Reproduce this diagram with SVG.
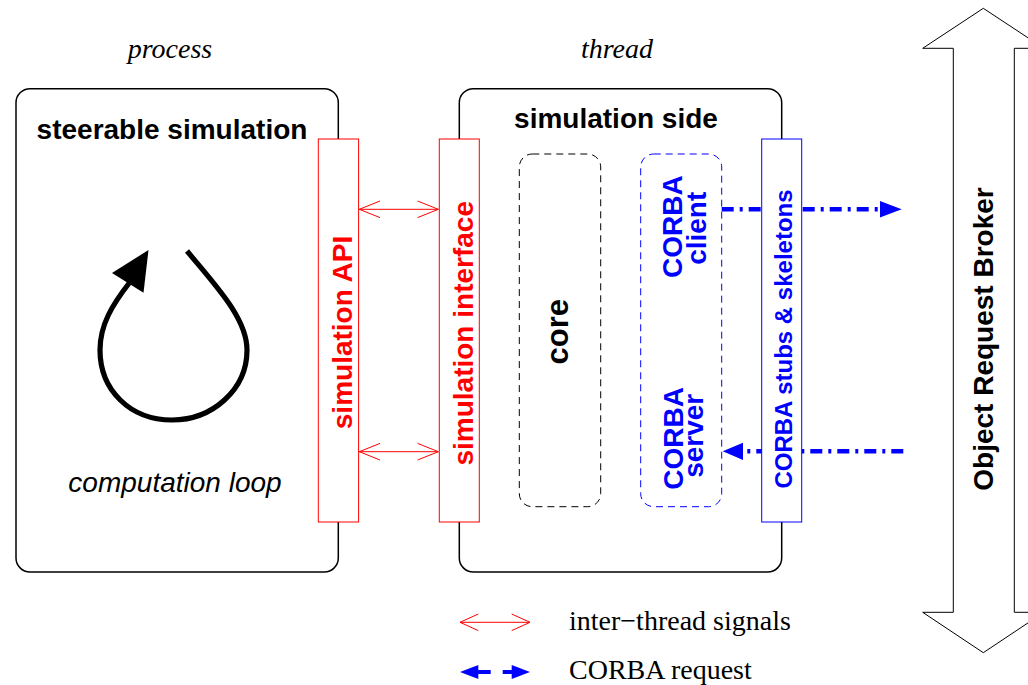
<svg xmlns="http://www.w3.org/2000/svg" width="1028" height="685" viewBox="0 0 1028 685">
<style>
.box{fill:#fff;stroke:#000;stroke-width:1.5}
.red{fill:#fff;stroke:#ff0000;stroke-width:1}
.blu{fill:#fff;stroke:#0000ff;stroke-width:1}
.dash{fill:none;stroke-width:1;stroke-dasharray:7 5}
.b{font-family:"Liberation Sans",Arial,sans-serif;font-weight:bold;font-size:28px;text-anchor:middle}
.it{font-family:"Liberation Serif","Times New Roman",serif;font-style:italic;font-size:28px;text-anchor:middle}
.rm{font-family:"Liberation Serif","Times New Roman",serif;font-size:28px}
.sans-it{font-family:"Liberation Sans",Arial,sans-serif;font-style:italic;font-size:28px;text-anchor:middle}
.rl{fill:none;stroke:#ff0000;stroke-width:1}
.bl{fill:none;stroke:#0000ff;stroke-width:4.5;stroke-dasharray:12 6 3 6}
</style>
<rect width="1028" height="685" fill="#fff"/>

<g id="steerable-simulation">
<rect class="box" x="16" y="88.7" width="322.3" height="483.3" rx="14"/>
<text class="b" x="172" y="139">steerable simulation</text>
<path d="M187,251 C215,285 247,318 247,350 C247,390 212,420 172,420 C130,420 100,390 100,350 C100,325 112,305 130,282" fill="none" stroke="#000" stroke-width="5.2"/>
<polygon points="148.5,250 112,273 143.5,292.7" fill="#000"/>
<text class="sans-it" x="175" y="492">computation loop</text>
</g>

<g id="simulation-side">
<rect class="box" x="459.3" y="88.7" width="322.4" height="483.3" rx="14"/>
<text class="b" x="616" y="128">simulation side</text>
</g>

<text class="it" x="170" y="58">process</text>
<text class="it" x="617" y="58">thread</text>

<g id="connectors">
<g id="sig1">
<line class="rl" x1="359.3" y1="209.3" x2="438.3" y2="209.3"/>
<polyline class="rl" points="380,201 359.3,209.3 380,217.6"/>
<polyline class="rl" points="417.6,201 438.3,209.3 417.6,217.6"/>
</g>
<g id="sig2">
<line class="rl" x1="359.3" y1="451.7" x2="438.3" y2="451.7"/>
<polyline class="rl" points="380,443.4 359.3,451.7 380,460"/>
<polyline class="rl" points="417.6,443.4 438.3,451.7 417.6,460"/>
</g>
<g id="req-out">
<line class="bl" x1="721.7" y1="209.3" x2="881" y2="209.3"/>
<polygon points="880,201 901.7,209.3 880,217.6" fill="#0000ff"/>
</g>
<g id="req-in">
<line class="bl" x1="903.3" y1="451.3" x2="742" y2="451.3"/>
<polygon points="743,442.7 722.7,451.3 743,460" fill="#0000ff"/>
</g>
</g>

<g id="simulation-api">
<rect class="red" x="318.3" y="139" width="40.3" height="383"/>
<text class="b" fill="#ff0000" transform="translate(352,332.5) rotate(-90)">simulation API</text>
</g>

<g id="simulation-interface">
<rect class="red" x="439.3" y="139" width="40" height="383"/>
<text class="b" fill="#ff0000" transform="translate(473,333.3) rotate(-90)">simulation interface</text>
</g>

<g id="core">
<rect class="dash" stroke="#000" x="519.3" y="154" width="81.4" height="352.7" rx="13"/>
<text class="b" font-size="31" style="font-size:31px" transform="translate(568,331.7) rotate(-90)">core</text>
</g>

<g id="corba-client-server">
<rect class="dash" stroke="#0000ff" x="640.7" y="154" width="81" height="352.7" rx="13"/>
<text class="b" fill="#0000ff" transform="translate(682,226.7) rotate(-90)">CORBA</text>
<text class="b" fill="#0000ff" transform="translate(706,228.3) rotate(-90)">client</text>
<text class="b" fill="#0000ff" transform="translate(683,438.3) rotate(-90)">CORBA</text>
<text class="b" fill="#0000ff" transform="translate(703,435.8) rotate(-90)">server</text>
</g>

<g id="corba-stubs">
<rect class="blu" x="761.7" y="139" width="40" height="383"/>
<text class="b" fill="#0000ff" style="font-size:24px" transform="translate(792,339) rotate(-90)">CORBA stubs &amp; skeletons</text>
</g>

<g id="orb">
<polygon points="983.3,8.3 922.7,48.3 953.3,48.3 953.3,612.3 922.7,612.3 983.3,652.7 1043.9,612.3 1014.3,612.3 1014.3,48.3 1043.9,48.3" fill="#fff" stroke="#000" stroke-width="1"/>
<text class="b" transform="translate(993,339) rotate(-90)">Object Request Broker</text>
</g>

<g id="legend">
<line class="rl" x1="460" y1="622.3" x2="530" y2="622.3"/>
<polyline class="rl" points="478.3,614 460,622.3 478.3,630.6"/>
<polyline class="rl" points="511.7,614 530,622.3 511.7,630.6"/>
<text class="rm" x="569" y="630">inter−thread signals</text>
<polygon points="460,672 478.3,665 478.3,679" fill="#0000ff"/>
<rect x="478" y="670" width="12.7" height="4" fill="#0000ff"/>
<rect x="502.7" y="670" width="10" height="4" fill="#0000ff"/>
<polygon points="530,672 511.7,665 511.7,679" fill="#0000ff"/>
<text class="rm" x="569" y="679.3">CORBA request</text>
</g>
</svg>
